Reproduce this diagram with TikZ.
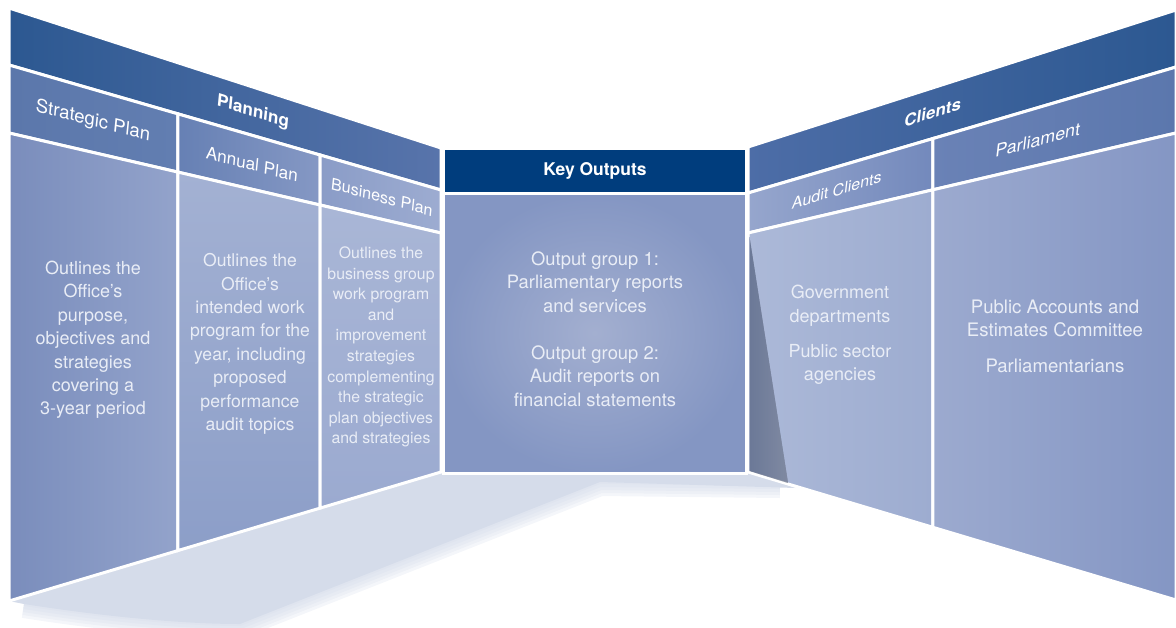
\documentclass[tikz,border=0pt]{standalone}
\usepackage{fontspec}
\setmainfont{TeX Gyre Heros}
\usetikzlibrary{calc}

\definecolor{bandL}{HTML}{2C5891}
\definecolor{bandR}{HTML}{5874AB}
\definecolor{bandM}{HTML}{4D6DA7}
\definecolor{keyblue}{HTML}{003D7D}
\definecolor{floorshade}{HTML}{D5DCEA}
\definecolor{textwhite}{HTML}{E9EDF6}
% sub-header shades
\definecolor{stratA}{HTML}{5B77AB}  \definecolor{stratB}{HTML}{627EB1}
\definecolor{annA}{HTML}{6680B4}    \definecolor{annB}{HTML}{8598C4}
\definecolor{bizA}{HTML}{8A9CC7}    \definecolor{bizB}{HTML}{9DACD1}
\definecolor{audA}{HTML}{96A6CD}    \definecolor{audB}{HTML}{7389BC}
\definecolor{parA}{HTML}{6A82B6}    \definecolor{parB}{HTML}{5B77AD}
% wall body shades
\definecolor{wallA}{HTML}{7A8DBC}   \definecolor{wallB}{HTML}{93A3CB}
\definecolor{wallC}{HTML}{A3B1D3}   \definecolor{wallD}{HTML}{8C9EC8}
\definecolor{wallE}{HTML}{A9B6D6}   \definecolor{wallF}{HTML}{9BAAD0}
\definecolor{wallG}{HTML}{A3AFD0}   \definecolor{wallH}{HTML}{8496C3}
\definecolor{wallI}{HTML}{ACB9D8}   \definecolor{wallJ}{HTML}{9DACD0}
\definecolor{wallK}{HTML}{9CAACF}   \definecolor{wallL}{HTML}{8496C4}
\definecolor{wedgeA}{HTML}{7D91C1}  \definecolor{wedgeB}{HTML}{ACB9D8}

\begin{document}
\begin{tikzpicture}[x=0.5pt, y=-0.5pt,
    cell/.style={draw=white, line width=1.5pt, line join=miter},
    head/.style={text=white, inner sep=0, font=\fontsize{8.5}{10}\selectfont\bfseries},
    subhead/.style={text=white, inner sep=0, font=\fontsize{#1}{10}\selectfont},
    body/.style={text=textwhite, inner sep=0, align=center, font=\fontsize{#1}{11.7}\selectfont},
    lslant/.style={cm={1,-#1,0.1,1,(0,0)}},
    rslant/.style={cm={1,#1,0.12,1,(0,0)}}
]
\useasboundingbox (0,0) rectangle (1176,627);

% wall outlines: one line per level, left and right end
\coordinate (la0) at (9,8);    \coordinate (la1) at (441,148);
\coordinate (lb0) at (9,65);   \coordinate (lb1) at (441,190);
\coordinate (lc0) at (9,133);  \coordinate (lc1) at (441,233);
\coordinate (ld0) at (9,601);  \coordinate (ld1) at (441,472);

\coordinate (ra0) at (748,147);  \coordinate (ra1) at (1176,10);
\coordinate (rb0) at (748,193);  \coordinate (rb1) at (1176,67);
\coordinate (rc0) at (748,233);  \coordinate (rc1) at (1176,133);
\coordinate (rd0) at (748,472);  \coordinate (rd1) at (1176,600);

% column splits
\foreach \l in {b,c,d}{
  \coordinate (l\l-1) at ($(l\l0)!0.391!(l\l1)$);
  \coordinate (l\l-2) at ($(l\l0)!0.72!(l\l1)$);
  \coordinate (r\l-1) at ($(r\l0)!0.432!(r\l1)$);
}

% floor shadow, soft outer edge first
\coordinate (fs) at (24,604);
\coordinate (fa) at (240,624); \coordinate (fb) at (600,482); \coordinate (fc) at (780,484);
\foreach \w in {14,11,8,5,2}
  \draw[floorshade, opacity=0.25, line width=\w pt, line join=round]
    (fs) .. controls (100,616) and (180,624) .. (fa) -- (fb) -- (fc);
\fill[floorshade] (ld0) -- (fs) .. controls (100,616) and (180,624) .. (fa)
  -- (fb) -- (796,488) -- (rd0) -- (ld1) -- cycle;

% left wall
\path[cell, left color=bandL, right color=bandR] (la0) -- (la1) -- (lb1) -- (lb0) -- cycle;
\path[cell, left color=stratA, right color=stratB] (lb0) -- (lb-1) -- (lc-1) -- (lc0) -- cycle;
\path[cell, left color=annA, right color=annB] (lb-1) -- (lb-2) -- (lc-2) -- (lc-1) -- cycle;
\path[cell, left color=bizA, right color=bizB] (lb-2) -- (lb1) -- (lc1) -- (lc-2) -- cycle;
\path[cell, left color=wallA, right color=wallB] (lc0) -- (lc-1) -- (ld-1) -- (ld0) -- cycle;
\path[cell, top color=wallC, bottom color=wallD] (lc-1) -- (lc-2) -- (ld-2) -- (ld-1) -- cycle;
\path[cell, top color=wallE, bottom color=wallF] (lc-2) -- (lc1) -- (ld1) -- (ld-2) -- cycle;

% centre wall
\coordinate (ca) at (443,148); \coordinate (cb) at (746,193); \coordinate (cc) at (443,473);
\path[cell, fill=keyblue] (ca) rectangle (cb);
\path[cell, inner color=wallG, outer color=wallH] (cc) rectangle (cb);

% right wall
\path[cell, left color=bandM, right color=bandL] (ra0) -- (ra1) -- (rb1) -- (rb0) -- cycle;
\path[cell, left color=audA, right color=audB] (rb0) -- (rb-1) -- (rc-1) -- (rc0) -- cycle;
\path[cell, left color=parA, right color=parB] (rb-1) -- (rb1) -- (rc1) -- (rc-1) -- cycle;
\path[cell, left color=wallI, right color=wallJ] (rc0) -- (rc-1) -- (rd-1) -- (rd0) -- cycle;
\path[cell, left color=wallK, right color=wallL] (rc-1) -- (rc1) -- (rd1) -- (rd-1) -- cycle;
\fill[left color=wedgeA, right color=wedgeB, opacity=0.45]
  ($(rc0)+(1.5,4)$) -- ($(rd0)!0.0935!(rd1)+(0,-1)$) -- ($(rd0)+(1.5,-1)$) -- cycle;

% headings
\node[head, lslant=0.31] (planning) at (253,112) {Planning};
\node[head, font=\fontsize{8.75}{10}\selectfont\bfseries] (keyout) at (595,171) {Key Outputs};
\node[head, rslant=0.31] (clients) at (933,112) {Clients};

\node[subhead=9.2, lslant=0.26] (strathead) at (93,121) {Strategic Plan};
\node[subhead=8.5, lslant=0.26] (annualhead) at (252,164) {Annual Plan};
\node[subhead=8, lslant=0.27] (bizhead) at (382,197) {Business Plan};
\node[subhead=8, rslant=0.3] (audithead) at (837,190) {Audit Clients};
\node[subhead=8.9, rslant=0.27] (parlhead) at (1038,140) {Parliament};

% column texts
\node[body=9] (stratbody) at (93,340)
  {Outlines the\\Office’s\\purpose,\\objectives and\\strategies\\covering a\\3-year period};
\node[body=8.8] (annualbody) at (250,344)
  {Outlines the\\Office’s\\intended work\\program for the\\year, including\\proposed\\performance\\audit topics};
\node[body=7.9, font=\fontsize{7.9}{10.3}\selectfont] (bizbody) at (381,347)
  {Outlines the\\business group\\work program\\and\\improvement\\strategies\\complementing\\the strategic\\plan objectives\\and strategies};
\node[body=9.2] (keybody) at (595,329)
  {Output group 1:\\Parliamentary reports\\and services\\[12pt]Output group 2:\\Audit reports on\\financial statements};
\node[body=9] (auditbody) at (840,335)
  {Government\\departments\\[6pt]Public sector\\agencies};
\node[body=9.3] (parlbody) at (1055,336)
  {Public Accounts and\\Estimates Committee\\[6pt]Parliamentarians};
\end{tikzpicture}
\end{document}
